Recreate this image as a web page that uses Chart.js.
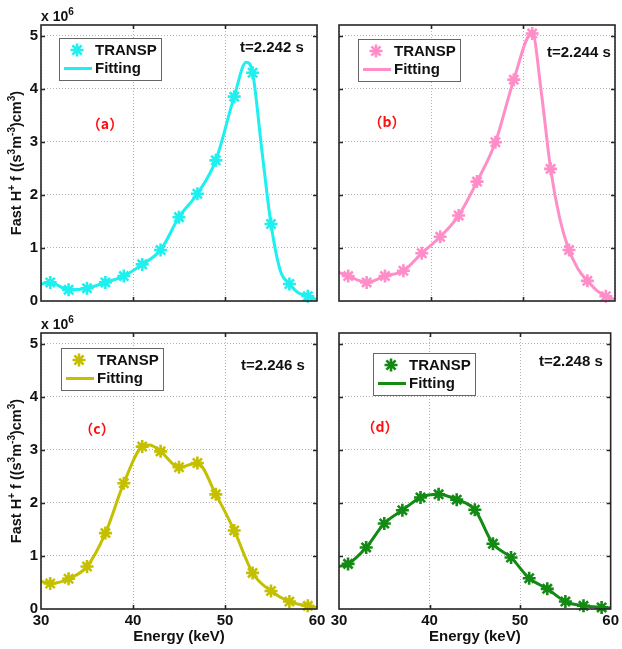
<!DOCTYPE html>
<html>
<head>
<meta charset="utf-8">
<script src="https://cdn.jsdelivr.net/npm/chart.js@4.4.1/dist/chart.umd.min.js"></script>
<style>
  html, body { margin: 0; padding: 0; background: #fff; }
  #wrap { position: relative; width: 622px; height: 649px; }
  #wrap canvas { position: absolute; left: 0; top: 0; }
</style>
</head>
<body>
<div id="wrap">
  <canvas id="ca" width="622" height="649"></canvas>
  <canvas id="cb" width="622" height="649"></canvas>
  <canvas id="cc" width="622" height="649"></canvas>
  <canvas id="cd" width="622" height="649"></canvas>
</div>
<script>
// energies of the TRANSP points (keV)
const energy = [31, 33, 35, 37, 39, 41, 43, 45, 47, 49, 51, 53, 55, 57, 59];

// TRANSP values (x 10^6)
const transpA = [0.35, 0.21, 0.24, 0.35, 0.47, 0.69, 0.96, 1.58, 2.02, 2.65, 3.85, 4.30, 1.45, 0.32, 0.09];
const transpB = [0.47, 0.35, 0.47, 0.57, 0.90, 1.21, 1.61, 2.25, 2.99, 4.17, 5.04, 2.49, 0.96, 0.38, 0.09];
const transpC = [0.48, 0.57, 0.80, 1.43, 2.37, 3.06, 2.97, 2.67, 2.75, 2.16, 1.48, 0.68, 0.34, 0.14, 0.06];
const transpD = [0.85, 1.16, 1.61, 1.86, 2.10, 2.16, 2.06, 1.87, 1.23, 0.97, 0.58, 0.38, 0.14, 0.06, 0.03];

// fitting curves
const fitEnergyA = [30, 31, 33, 35, 37, 39, 41, 43, 45, 47, 49, 51, 52.3, 53, 54, 55, 56, 57, 58, 59, 60];
const fitA = [0.32, 0.35, 0.21, 0.24, 0.35, 0.47, 0.69, 0.96, 1.58, 2.02, 2.65, 3.85, 4.50, 4.30, 2.85, 1.45, 0.58, 0.32, 0.15, 0.09, 0.02];
const fitEnergyB = [30, 31, 33, 35, 37, 39, 41, 43, 45, 47, 49, 51, 52, 53, 54, 55, 56, 57, 58, 59, 60];
const fitB = [0.54, 0.47, 0.35, 0.47, 0.57, 0.90, 1.21, 1.61, 2.25, 2.99, 4.17, 5.06, 3.92, 2.49, 1.55, 0.96, 0.60, 0.38, 0.20, 0.09, 0.03];
const fitEnergyC = [30, 31, 33, 35, 37, 39, 41, 41.8, 43, 45, 47, 49, 51, 53, 55, 57, 59, 60];
const fitC = [0.52, 0.48, 0.57, 0.80, 1.43, 2.37, 3.06, 3.09, 2.97, 2.67, 2.75, 2.16, 1.48, 0.68, 0.34, 0.14, 0.06, 0.03];
const fitEnergyD = [30, 31, 33, 35, 37, 39, 41, 43, 45, 47, 49, 51, 53, 55, 57, 59, 60];
const fitD = [0.80, 0.85, 1.16, 1.61, 1.86, 2.10, 2.16, 2.06, 1.87, 1.23, 0.97, 0.58, 0.38, 0.14, 0.06, 0.03, 0.02];

const xTicks = [30, 40, 50, 60];
const yTicks = [0, 1, 2, 3, 4, 5];
const times = ['t=2.242 s', 't=2.244 s', 't=2.246 s', 't=2.248 s'];
const tags = ['（a）', '（b）', '（c）', '（d）'];
const seriesNames = ['TRANSP', 'Fitting'];

const FONT = '"Liberation Sans", Arial, sans-serif';
const W = 622, H = 649;

const panels = [
  { id: 'ca', pts: transpA, fe: fitEnergyA, fv: fitA, color: '#1EEFEF', area: { l: 41, t: 25, r: 317, b: 301 },
    xLab: false, yLab: true, legend: { x: 59, y: 38 }, timePos: { x: 240, y: 48 }, tagPos: { x: 105, y: 124 } },
  { id: 'cb', pts: transpB, fe: fitEnergyB, fv: fitB, color: '#FF8EC8', area: { l: 339, t: 25, r: 615, b: 301 },
    xLab: false, yLab: false, legend: { x: 358, y: 39 }, timePos: { x: 547, y: 53 }, tagPos: { x: 387, y: 122 } },
  { id: 'cc', pts: transpC, fe: fitEnergyC, fv: fitC, color: '#C4C000', area: { l: 41, t: 333, r: 317, b: 609 },
    xLab: true, yLab: true, legend: { x: 61, y: 348 }, timePos: { x: 241, y: 366 }, tagPos: { x: 97, y: 429 } },
  { id: 'cd', pts: transpD, fe: fitEnergyD, fv: fitD, color: '#138A13', area: { l: 339, t: 333, r: 615, b: 609 },
    xLab: true, yLab: false, legend: { x: 373, y: 353 }, timePos: { x: 539, y: 362 }, tagPos: { x: 380, y: 427 } }
];

// text with superscripts
function drawRich(ctx, parts, x, y, size, align) {
  const sup = Math.round(size * 0.72);
  ctx.textAlign = 'left';
  ctx.textBaseline = 'alphabetic';
  let total = 0;
  for (const p of parts) {
    ctx.font = 'bold ' + (p.sup ? sup : size) + 'px ' + FONT;
    total += ctx.measureText(p.t).width;
  }
  let xx = align === 'center' ? x - total / 2 : x;
  for (const p of parts) {
    ctx.font = 'bold ' + (p.sup ? sup : size) + 'px ' + FONT;
    ctx.fillText(p.t, xx, p.sup ? y - size * 0.42 : y);
    xx += ctx.measureText(p.t).width;
  }
}

const decor = {
  id: 'decor',
  afterDraw(chart, args, opts) {
    const p = opts.panel;
    const ctx = chart.ctx;
    const a = chart.chartArea;
    const xs = chart.scales.x, ys = chart.scales.y;
    ctx.save();
    // frame + inward ticks
    ctx.strokeStyle = '#262626';
    ctx.lineWidth = 1.6;
    ctx.strokeRect(a.left, a.top, a.right - a.left, a.bottom - a.top);
    ctx.beginPath();
    xTicks.slice(1, -1).forEach(v => {
      const px = Math.round(xs.getPixelForValue(v)) + 0.5;
      ctx.moveTo(px, a.bottom); ctx.lineTo(px, a.bottom - 4);
      ctx.moveTo(px, a.top); ctx.lineTo(px, a.top + 4);
    });
    yTicks.slice(1).forEach(v => {
      const py = Math.round(ys.getPixelForValue(v)) + 0.5;
      ctx.moveTo(a.left, py); ctx.lineTo(a.left + 4, py);
      ctx.moveTo(a.right, py); ctx.lineTo(a.right - 4, py);
    });
    ctx.stroke();

    // legend
    const L = p.legend;
    ctx.fillStyle = '#fff';
    ctx.fillRect(L.x, L.y, 102, 42);
    ctx.strokeStyle = '#666';
    ctx.lineWidth = 1;
    ctx.strokeRect(L.x + 0.5, L.y + 0.5, 102, 42);
    ctx.strokeStyle = p.color;
    ctx.fillStyle = p.color;
    ctx.lineWidth = 2.6;
    Chart.helpers.drawPoint(ctx, { pointStyle: 'star', radius: 6.5, borderWidth: 2.6, rotation: 0 }, L.x + 18, L.y + 12);
    ctx.lineWidth = 3;
    ctx.beginPath();
    ctx.moveTo(L.x + 5, L.y + 30.5); ctx.lineTo(L.x + 33, L.y + 30.5);
    ctx.stroke();
    ctx.fillStyle = '#111';
    ctx.font = 'bold 15px ' + FONT;
    ctx.textBaseline = 'middle';
    ctx.textAlign = 'left';
    ctx.fillText(seriesNames[0], L.x + 36, L.y + 12.5);
    ctx.fillText(seriesNames[1], L.x + 36, L.y + 30.5);

    // time annotation
    ctx.fillText(p.time, p.timePos.x, p.timePos.y);

    // panel tag
    ctx.fillStyle = '#ff1010';
    ctx.font = 'bold 14px "Noto Sans CJK SC", sans-serif';
    ctx.textAlign = 'center';
    ctx.fillText(p.tag, p.tagPos.x, p.tagPos.y);

    // y-axis exponent and title (left panels)
    ctx.fillStyle = '#111';
    if (p.yLab) {
      drawRich(ctx, [{ t: 'x 10' }, { t: '6', sup: true }], a.left, a.top - 4, 14, 'left');
      ctx.save();
      ctx.translate(21, (a.top + a.bottom) / 2);
      ctx.rotate(-Math.PI / 2);
      drawRich(ctx, [
        { t: 'Fast H' }, { t: '+', sup: true }, { t: ' f ((s' }, { t: '3', sup: true },
        { t: 'm' }, { t: '-3', sup: true }, { t: ')cm' }, { t: '3', sup: true }, { t: ')' }
      ], 0, 0, 14.5, 'center');
      ctx.restore();
    }
    // x-axis title (bottom panels)
    if (p.xLab) {
      ctx.font = 'bold 15px ' + FONT;
      ctx.textAlign = 'center';
      ctx.textBaseline = 'middle';
      ctx.fillText('Energy (keV)', (a.left + a.right) / 2, 637);
    }
    ctx.restore();
  }
};

panels.forEach((p, i) => {
  p.time = times[i];
  p.tag = tags[i];
  const tickFont = { family: FONT, size: 15, weight: 'bold' };
  new Chart(document.getElementById(p.id), {
    type: 'line',
    data: {
      datasets: [
        {
          label: seriesNames[0],
          data: energy.map((e, k) => ({ x: e, y: p.pts[k] })),
          showLine: false,
          pointStyle: 'star',
          pointRadius: 6.5,
          pointBorderWidth: 2.6,
          pointBorderColor: p.color,
          pointBackgroundColor: p.color,
          clip: false,
          order: 0
        },
        {
          label: seriesNames[1],
          data: p.fe.map((e, k) => ({ x: e, y: p.fv[k] })),
          borderColor: p.color,
          borderWidth: 3,
          pointRadius: 0,
          cubicInterpolationMode: 'monotone',
          fill: false,
          order: 1
        }
      ]
    },
    options: {
      responsive: false,
      animation: false,
      events: [],
      layout: {
        autoPadding: false,
        padding: { left: 0, top: p.area.t, right: W - p.area.r, bottom: 0 }
      },
      plugins: {
        legend: { display: false },
        tooltip: { enabled: false },
        decor: { panel: p }
      },
      scales: {
        x: {
          type: 'linear',
          min: 30,
          max: 60,
          afterBuildTicks: s => { s.ticks = xTicks.map(v => ({ value: v })); },
          afterFit: s => { s.height = H - p.area.b; },
          ticks: { display: p.xLab, font: tickFont, color: '#111', padding: 3, maxRotation: 0, autoSkip: false },
          grid: { color: '#b2b2b2', lineWidth: 1, drawTicks: false },
          border: { display: false, dash: [1, 2] }
        },
        y: {
          type: 'linear',
          min: 0,
          max: 5.2,
          afterBuildTicks: s => { s.ticks = yTicks.map(v => ({ value: v })); },
          afterFit: s => { s.width = p.area.l; },
          ticks: { display: p.yLab, font: tickFont, color: '#111', padding: 3 },
          grid: { color: '#b2b2b2', lineWidth: 1, drawTicks: false },
          border: { display: false, dash: [1, 2] }
        }
      }
    },
    plugins: [decor]
  });
});
</script>
</body>
</html>
